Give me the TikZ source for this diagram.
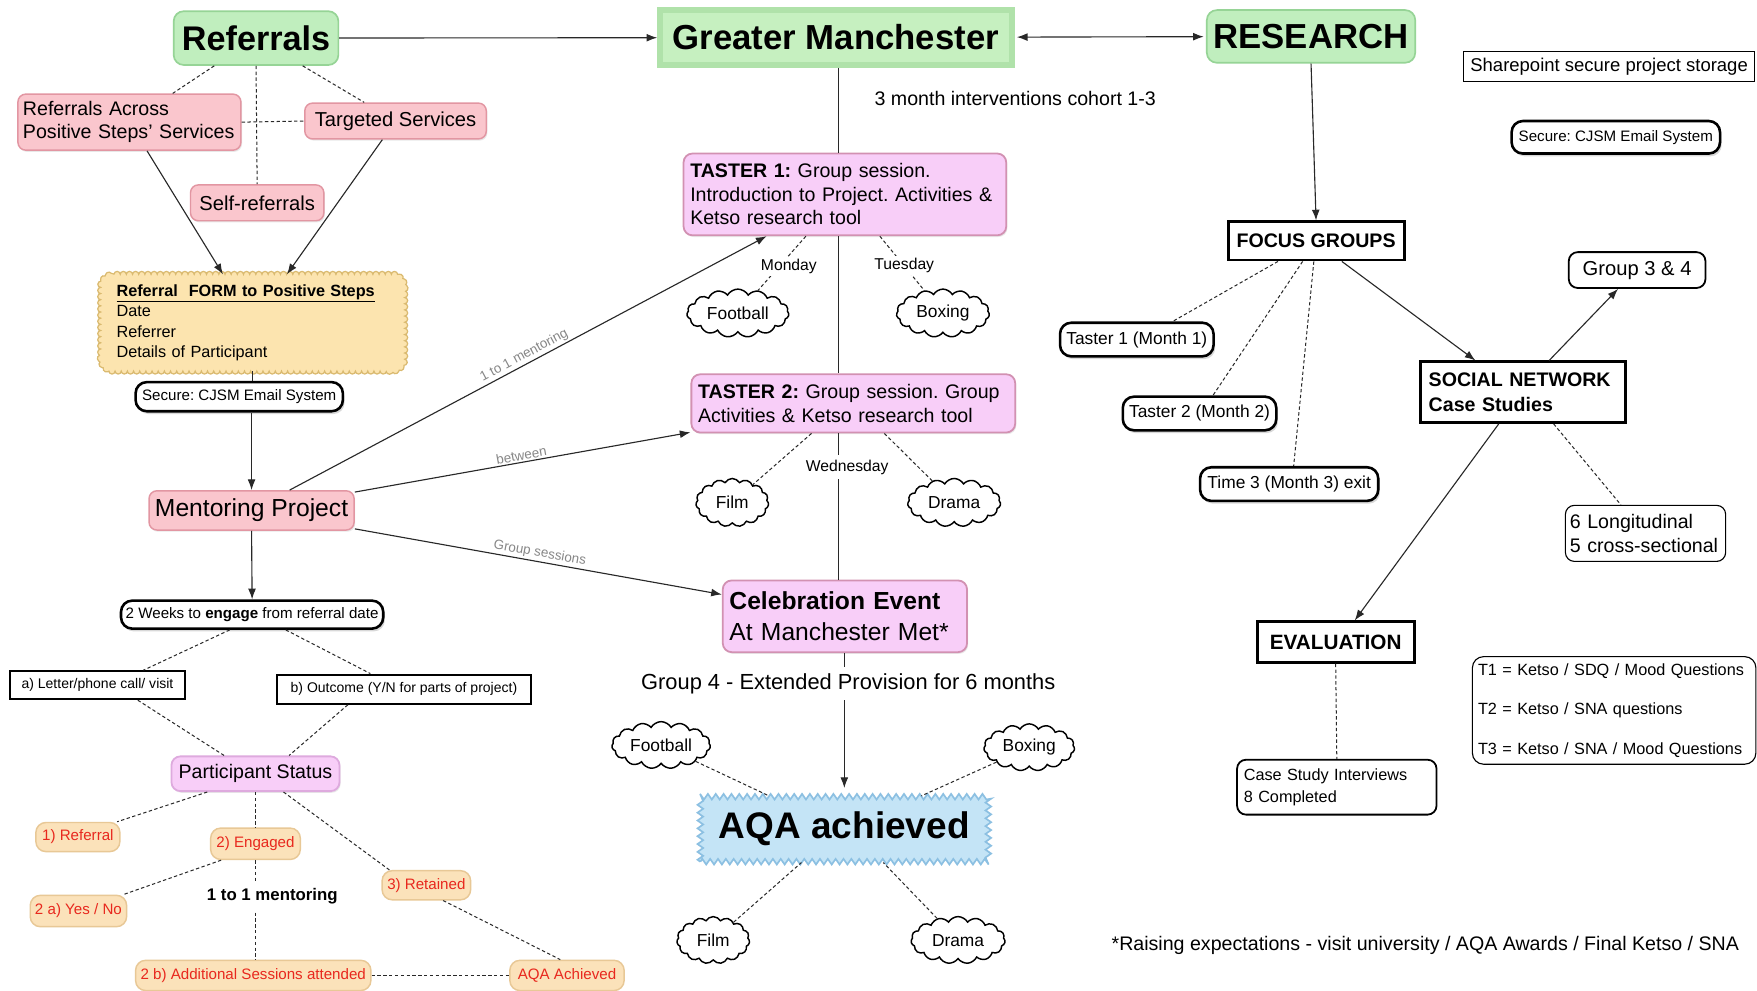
\documentclass[tikz,border=0pt]{standalone}
\usepackage{fontspec}
\setmainfont{Liberation Sans}
\usetikzlibrary{arrows.meta,shapes.symbols,shapes.geometric,decorations.pathmorphing,shadows,calc,backgrounds}

\definecolor{greenF}{RGB}{192,238,190}
\definecolor{greenD}{RGB}{150,212,150}
\definecolor{gmBand}{RGB}{176,226,170}
\definecolor{gmFill}{RGB}{198,240,192}
\definecolor{pinkF}{RGB}{250,198,205}
\definecolor{pinkD}{RGB}{226,150,162}
\definecolor{violF}{RGB}{248,206,248}
\definecolor{violD}{RGB}{210,145,178}
\definecolor{violL}{RGB}{222,170,222}
\definecolor{creamF}{RGB}{251,226,186}
\definecolor{creamD}{RGB}{232,200,150}
\definecolor{redT}{RGB}{232,40,30}
\definecolor{formF}{RGB}{252,228,175}
\definecolor{formD}{RGB}{218,186,112}
\definecolor{blueF}{RGB}{196,228,246}
\definecolor{blueD}{RGB}{140,192,226}
\definecolor{lineC}{RGB}{40,40,40}
\definecolor{labelC}{RGB}{135,135,135}

\newcommand{\fsz}[2]{\fontsize{#1}{#2}\selectfont}
\frenchspacing

\tikzset{
  ttl/.style={rounded corners=9pt, fill=greenF, draw=greenD, line width=1.5pt, font=\bfseries\fsz{30.5}{36}},
  pinkbox/.style={rounded corners=7pt, fill=pinkF, draw=pinkD, line width=1.3pt,
     drop shadow={opacity=0.18, shadow xshift=1pt, shadow yshift=-1.5pt}, font=\fsz{18}{21}},
  violbox/.style={rounded corners=8pt, fill=violF, draw=violD, line width=1.6pt,
     drop shadow={opacity=0.18, shadow xshift=1pt, shadow yshift=-1.5pt}, font=\fsz{17.5}{21}},
  pill/.style={rounded corners=10pt, fill=white, draw=black, line width=2.3pt,
     drop shadow={opacity=0.3, shadow xshift=1.5pt, shadow yshift=-2.5pt}, font=\fsz{13.5}{16}, inner sep=2pt},
  sqbox/.style={fill=white, draw=black, line width=2.6pt, font=\bfseries\fsz{17.5}{22}},
  thinr/.style={rounded corners=8pt, fill=white, draw=black, line width=1.2pt},
  statusbox/.style={rounded corners=9pt, fill=creamF, draw=creamD, line width=1.3pt, text=redT, font=\fsz{13.5}{16}, inner sep=2pt},
  cloudn/.style={cloud, cloud puffs=15, cloud puff arc=120, cloud ignores aspect, draw=black, line width=1.3pt, fill=white, font=\fsz{15.5}{18}, inner sep=0pt},
  conn/.style={draw=lineC, line width=1pt},
  arr/.style={conn, -{Latex[length=9.5pt,width=7pt]}},
  dsh/.style={draw=lineC, line width=0.9pt, dash pattern=on 3pt off 2.2pt},
  glabel/.style={font=\fsz{12}{14}, text=labelC, sloped, above, inner sep=1.5pt},
  wlabel/.style={fill=white, inner sep=2pt},
  sharpbox/.style={draw=black, line width=1.8pt, fill=white, font=\fsz{12.5}{15}, inner sep=2pt}
}

\begin{document}
\begin{tikzpicture}[x=1pt,y=-1pt]
\useasboundingbox (0,0) rectangle (1568,884);
\begin{scope}[on background layer]
\fill[white] (0,0) rectangle (1568,884);
\end{scope}
\coordinate (spine) at (748,0);

% ---------- top row ----------
\node[ttl, minimum width=147pt, minimum height=48pt] (ref) at (228.5,34) {Referrals};
\node[draw=gmBand, fill=gmFill, line width=5pt, minimum width=314pt, minimum height=49pt, font=\bfseries\fsz{31}{36}] (gm) at (746,33.5) {Greater Manchester};
\node[ttl, minimum width=186pt, minimum height=47pt, font=\bfseries\fsz{31}{36}] (res) at (1170,32.5) {RESEARCH};
\node[font=\fsz{17.5}{20}] (three) at (906,88) {3 month interventions cohort 1-3};
\node[draw=black, line width=1pt, fill=white, minimum width=260pt, minimum height=27pt, font=\fsz{16.5}{19}, inner sep=2pt] (share) at (1436,59.5) {Sharepoint secure project storage};
\node[pill, minimum width=186pt, minimum height=29pt] (secR) at (1442,122.5) {Secure: CJSM Email System};

% ---------- left column ----------
\node[pinkbox, minimum height=50pt, text width=190pt, inner xsep=4.5pt, align=left, font=\fsz{17.5}{21}] (ra) at (115.5,109) {Referrals Across\\Positive Steps’ Services};
\node[pinkbox, minimum width=162pt, minimum height=32pt] (targ) at (353,108) {Targeted Services};
\node[pinkbox, minimum width=119pt, minimum height=32pt] (self) at (229.5,181) {Self-referrals};
\node[minimum height=86pt, text width=243pt, inner xsep=14pt, align=left, font=\fsz{14.5}{18}] (form) at (225.5,288)
      {\textbf{\underline{Referral\ \ FORM to Positive Steps}}\\Date\\Referrer\\Details of Participant};
\begin{scope}[on background layer]
\path[fill=formF, draw=formD, line width=1.1pt, decorate, decoration={bumps, segment length=11pt, amplitude=2.6pt}]
  {[rounded corners=12pt] (form.north west) -- (form.north east) -- (form.south east) -- (form.south west) -- cycle};
\end{scope}
\node[pill, minimum width=185pt, minimum height=26pt] (secL) at (213.5,354) {Secure: CJSM Email System};
\node[pinkbox, minimum width=183pt, minimum height=35pt, font=\fsz{22}{26}] (mentor) at (224.5,455.5) {Mentoring Project};
\node[pill, minimum width=234pt, minimum height=25pt] (weeks) at (225,548.5) {2 Weeks to \textbf{engage} from referral date};
\node[sharpbox, minimum width=156pt, minimum height=25pt] (letA) at (87,611.5) {a) Letter/phone call/ visit};
\node[sharpbox, minimum width=227pt, minimum height=26pt] (outB) at (360.5,615) {b) Outcome (Y/N for parts of project)};
\node[violbox, draw=violL, minimum width=150pt, minimum height=31pt] (ps) at (228,690.5) {Participant Status};
\node[statusbox, minimum width=75pt, minimum height=26pt] (ref1) at (69.5,747) {1) Referral};
\node[statusbox, minimum width=80pt, minimum height=28pt] (eng) at (228,753) {2) Engaged};
\node[statusbox, minimum width=79pt, minimum height=26pt] (ret) at (380.5,790) {3) Retained};
\node[statusbox, minimum width=86pt, minimum height=28pt] (yes) at (70,813) {2 a) Yes / No};
\node[statusbox, minimum width=210pt, minimum height=27pt] (add) at (226,870.5) {2 b) Additional Sessions attended};
\node[statusbox, minimum width=102pt, minimum height=27pt] (aqaA) at (506,870.5) {AQA Achieved};

% ---------- middle column ----------
\node[violbox, text width=276pt, inner xsep=6pt, minimum height=73pt, align=left] (t1) at (754,173.5)
   {\textbf{TASTER 1:} Group session.\\Introduction to Project. Activities \&\\Ketso research tool};
\node[cloudn, minimum width=91pt, minimum height=43pt] (fb1) at (658.5,279.5) {Football};
\node[cloudn, minimum width=83pt, minimum height=43pt] (bx1) at (841.5,279.5) {Boxing};
\node[violbox, text width=277pt, inner xsep=6pt, minimum height=52pt, align=left] (t2) at (761.5,360)
   {\textbf{TASTER 2:} Group session. Group\\Activities \& Ketso research tool};
\node[cloudn, minimum width=65pt, minimum height=43pt] (film1) at (653.5,448.5) {Film};
\node[cloudn, minimum width=83pt, minimum height=43pt] (drama1) at (851.5,448.5) {Drama};
\node[violbox, text width=206pt, inner xsep=6pt, minimum height=64pt, align=left, font=\fsz{22}{27}] (celeb) at (754,550)
   {\textbf{Celebration Event}\\At Manchester Met*};
\node[fill=blueF, draw=blueD, line width=1.5pt, decorate, decoration={zigzag, segment length=7pt, amplitude=2.5pt},
      minimum width=257pt, minimum height=58pt, font=\bfseries\fsz{33}{38}] (aqa) at (753.5,740) {AQA achieved};
\node[cloudn, minimum width=88pt, minimum height=42pt] (fb2) at (590,665) {Football};
\node[cloudn, minimum width=81pt, minimum height=42pt] (bx2) at (918.5,667) {Boxing};
\node[cloudn, minimum width=65pt, minimum height=42pt] (film2) at (636.5,839) {Film};
\node[cloudn, minimum width=84pt, minimum height=42pt] (drama2) at (855,839) {Drama};

% ---------- right column ----------
\node[sqbox, minimum width=157pt, minimum height=34pt] (focus) at (1174.5,215) {FOCUS GROUPS};
\node[pill, minimum width=137pt, minimum height=30pt, font=\fsz{15.5}{18}] (tm1) at (1014.5,303) {Taster 1 (Month 1)};
\node[pill, minimum width=137pt, minimum height=30pt, font=\fsz{15.5}{18}] (tm2) at (1070.5,369) {Taster 2 (Month 2)};
\node[pill, minimum width=159pt, minimum height=30pt, font=\fsz{15.5}{18}] (tm3) at (1150.5,432) {Time 3 (Month 3) exit};
\node[sqbox, text width=169pt, inner xsep=7pt, minimum height=54pt, align=left] (soc) at (1359.5,350) {SOCIAL NETWORK\\Case Studies};
\node[thinr, line width=1.6pt, minimum width=122pt, minimum height=32pt, font=\fsz{18}{21}] (g34) at (1461,241) {Group 3 \& 4};
\node[thinr, line width=1pt, text width=135pt, inner xsep=4pt, minimum height=50pt, align=left, font=\fsz{17.5}{22}] (longi) at (1468.5,476) {6 Longitudinal\\5 cross-sectional};
\node[sqbox, minimum width=140pt, minimum height=36pt, font=\bfseries\fsz{18.5}{22}] (eval) at (1192,573) {EVALUATION};
\node[thinr, line width=1.6pt, text width=166pt, inner xsep=6pt, minimum height=49pt, align=left, font=\fsz{14.5}{19}] (case) at (1193,702.5) {Case Study Interviews\\8 Completed};
\node[thinr, line width=1pt, rounded corners=10pt, text width=243pt, inner xsep=5pt, minimum height=96pt, align=left, font=\fsz{14.5}{35.5}] (tbox) at (1440.5,634)
   {T1 = Ketso / SDQ / Mood Questions\\T2 = Ketso / SNA questions\\T3 = Ketso / SNA / Mood Questions};
\node[font=\fsz{17.5}{20}] (foot) at (1272,844) {*Raising expectations - visit university / AQA Awards / Final Ketso / SNA};

% ---------- connectors: top ----------
\draw[arr] (ref) -- (gm);
\draw[conn, {Latex[length=9.5pt,width=7pt]}-{Latex[length=9.5pt,width=7pt]}, shorten <=2pt, shorten >=2pt] (gm) -- (res);

% ---------- connectors: left ----------
\draw[dsh] (ref) -- (ra);
\draw[dsh] (ref) -- (targ);
\draw[dsh] (ref.south) -- (self.north);
\draw[dsh] (ra.east) -- (targ.west);
\draw[arr] (ra) -- (form);
\draw[arr] (targ) -- (form);
\draw[conn] (form.south) -- (form.south |- secL.north);
\draw[arr] (mentor.north |- secL.south) -- (mentor.north);
\draw[arr] (mentor) -- node[glabel]{1 to 1 mentoring} (t1);
\draw[arr] (mentor) -- node[glabel]{between} (t2);
\draw[arr] (mentor) -- node[glabel]{Group sessions} (celeb);
\draw[arr] (mentor.south) -- (weeks.north);
\draw[dsh] ($(weeks.south)+(-20,0)$) -- ($(letA.north)+(41,0)$);
\draw[dsh] ($(weeks.south)+(30,0)$) -- ($(outB.north)+(-30,0)$);
\draw[dsh] ($(letA.south)+(36,0)$) -- ($(ps.north)+(-28,0)$);
\draw[dsh] ($(outB.south)+(-50,0)$) -- ($(ps.north)+(30,0)$);
\draw[dsh] ($(ps.south)+(-43,0)$) -- ($(ref1.north)+(35,0)$);
\draw[dsh] (ps.south) -- (eng.north);
\draw[dsh] ($(ps.south)+(25,0)$) -- ($(ret.north)+(-33,0)$);
\draw[dsh] ($(eng.south west)+(10,0)$) -- ($(yes.north)+(40,0)$);
\draw[dsh] (eng.south) -- (eng.south |- add.north);
\draw[dsh] (add.east) -- (aqaA.west);
\draw[dsh] ($(ret.south)+(15,0)$) -- ($(aqaA.north)+(-6,0)$);

% ---------- connectors: middle ----------
\draw[conn] (gm.south -| spine) -- (t1.north -| spine);
\draw[conn] (t1.south -| spine) -- (t2.north -| spine);
\draw[conn] (t2.south -| spine) -- (celeb.north -| spine);
\draw[arr, shorten >=7pt] (celeb.south -| aqa.north) -- (aqa.north);
\draw[dsh] ($(t1.south west)+(110,0)$) -- (fb1);
\draw[dsh] ($(t1.south west)+(176,0)$) -- (bx1);
\draw[dsh] ($(t2.south west)+(108,0)$) -- (film1);
\draw[dsh] ($(t2.south west)+(173,0)$) -- (drama1);
\draw[dsh] (fb2) -- ($(aqa.north west)+(62,0)$);
\draw[dsh] (bx2) -- ($(aqa.north west)+(198,0)$);
\draw[dsh] (film2) -- ($(aqa.south west)+(91,0)$);
\draw[dsh] (drama2) -- ($(aqa.south west)+(164,0)$);

% ---------- connectors: right ----------
\draw[arr] (res.south) -- (focus.north);
\draw[dsh] ($(focus.south)+(-34,0)$) -- ($(tm1.north)+(32,0)$);
\draw[dsh] ($(focus.south)+(-12,0)$) -- ($(tm2.north)+(12,0)$);
\draw[dsh] ($(focus.south)+(-2,0)$) -- ($(tm3.north)+(4,0)$);
\draw[arr] ($(focus.south)+(23,0)$) -- ($(soc.north west)+(50,0)$);
\draw[arr] ($(soc.north)+(23,0)$) -- ($(g34.south)+(-17,0)$);
\draw[dsh] ($(soc.south)+(27,0)$) -- ($(longi.north)+(-22,0)$);
\draw[arr] ($(soc.south)+(-22,0)$) -- ($(eval.north)+(17,0)$);
\draw[dsh] (eval.south) -- (case.north);

% ---------- labels sitting on connectors ----------
\node[wlabel, font=\fsz{14}{16}] (mon) at (704,238) {Monday};
\node[wlabel, font=\fsz{14}{16}] (tue) at (807,237) {Tuesday};
\node[wlabel, inner sep=4pt, font=\fsz{14}{16}] (wed) at (756,417) {Wednesday};
\node[wlabel, inner ysep=6pt, font=\fsz{19.5}{22}] (g4) at (757,610) {Group 4 - Extended Provision for 6 months};
\node[wlabel, inner ysep=5pt, font=\bfseries\fsz{15}{18}] (onetoone) at (243,800) {1 to 1 mentoring};
\end{tikzpicture}
\end{document}
